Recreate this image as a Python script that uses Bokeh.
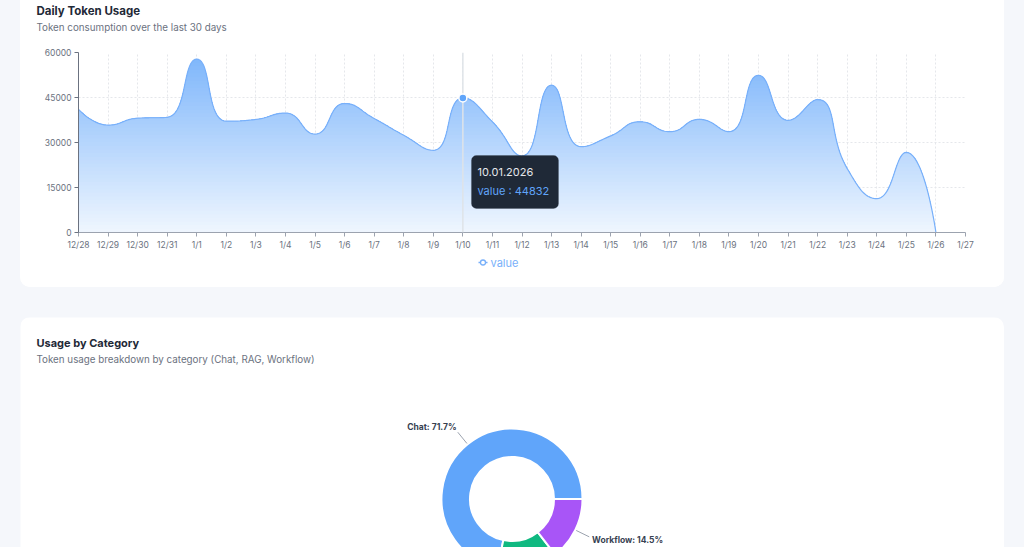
import math
import numpy as np
from bokeh.plotting import figure
from bokeh.models import (Range1d, FixedTicker, Label, BoxAnnotation, Span,
                          Spacer, ColumnDataSource)
from bokeh.layouts import column, row
from bokeh.embed import file_html
from bokeh.resources import INLINE
from bokeh.core.properties import value

# ---------------- data ----------------
tick_labels = ["12/28", "12/29", "12/30", "12/31", "1/1", "1/2", "1/3", "1/4",
               "1/5", "1/6", "1/7", "1/8", "1/9", "1/10", "1/11", "1/12",
               "1/13", "1/14", "1/15", "1/16", "1/17", "1/18", "1/19", "1/20",
               "1/21", "1/22", "1/23", "1/24", "1/25", "1/26", "1/27"]
token_values = [41100, 35800, 38100, 38400, 57800, 37100, 37700, 39800,
                32800, 43000, 38000, 32400, 27400, 44832, 36900, 25500,
                49100, 28600, 32200, 36900, 33600, 37700, 33600, 52400,
                37400, 44300, 21300, 11300, 26700, 0]
y_ticks = [0, 15000, 30000, 45000, 60000]
hover_index = 13
hover_year = 2026
series_name = "value"

categories = ["Chat", "RAG", "Workflow"]
shares = [71.7, 13.8, 14.5]
cat_colors = ["#60a5fa", "#10b981", "#a855f7"]

# ---------------- style ----------------
BG = "#f5f7fb"
FONT = "Inter"
BLUE = "#60a5fa"
LINE_BLUE = "#78b0fa"
TXT_DARK = "#1f2937"
TXT_GRAY = "#6b7280"

SIDE = 20
CARD_W = 984
HT = 36                  # title strip height (card 1)
H1 = 218                 # chart height
ML, MR, MT, MB = 58, 39, 16, 22
FW, FH = CARD_W - ML - MR, H1 - MT - MB
HL = 33                  # legend strip height
n_cat = len(tick_labels) - 1
PX_X = FW / n_cat
PX_Y = FH / (y_ticks[-1] - y_ticks[0])


def strip(height, radius):
    f = figure(width=CARD_W, height=height, x_range=Range1d(0, CARD_W),
               y_range=Range1d(0, height), title=None, output_backend="svg",
               toolbar_location=None, min_border=0, frame_align=False,
               background_fill_color="white", border_fill_color="white",
               outline_line_color=None,
               styles={"border-radius": radius, "overflow": "hidden"})
    f.axis.visible = False
    f.grid.visible = False
    return f


def echarts_smooth(xs, ys, smooth=0.5, samples=24):
    P = [(x * PX_X, y * PX_Y) for x, y in zip(xs, ys)]
    n = len(P)
    ox, oy = [P[0][0]], [P[0][1]]
    cp0 = P[0]
    for k in range(1, n):
        x, y = P[k]
        px, py = P[k - 1]
        if k == n - 1:
            cp1 = (x, y)
            ncp0 = (x, y)
        else:
            nx, ny = P[k + 1]
            vx, vy = nx - px, ny - py
            l0 = math.hypot(x - px, y - py)
            l1 = math.hypot(nx - x, ny - y)
            r = l1 / (l0 + l1)
            ncx = x + vx * smooth * r
            ncy = y + vy * smooth * r
            ncx = max(min(ncx, max(nx, x)), min(nx, x))
            ncy = max(min(ncy, max(ny, y)), min(ny, y))
            vx, vy = ncx - x, ncy - y
            c1x = x - vx * l0 / l1
            c1y = y - vy * l0 / l1
            c1x = max(min(c1x, max(px, x)), min(px, x))
            c1y = max(min(c1y, max(py, y)), min(py, y))
            vx, vy = x - c1x, y - c1y
            ncx = x + vx * l1 / l0
            ncy = y + vy * l1 / l0
            cp1 = (c1x, c1y)
            ncp0 = (ncx, ncy)
        for t in np.linspace(0, 1, samples + 1)[1:]:
            a = (1 - t) ** 3
            b = 3 * (1 - t) ** 2 * t
            c = 3 * (1 - t) * t ** 2
            d = t ** 3
            ox.append(a * px + b * cp0[0] + c * cp1[0] + d * x)
            oy.append(a * py + b * cp0[1] + c * cp1[1] + d * y)
        cp0 = ncp0
    return np.array(ox) / PX_X, np.array(oy) / PX_Y


xs = list(range(len(token_values)))
cx, cy = echarts_smooth(xs, token_values)
cy = np.maximum(cy, 0)

# ---------------- title strip (card 1) ----------------
pt = strip(HT, "0px")
pt.add_layout(Label(x=16, y=HT - 10, x_units="screen", y_units="screen",
                    text="Daily Token Usage", text_font=FONT,
                    text_font_size="11.5px", text_font_style="bold",
                    text_color=TXT_DARK, text_baseline="middle"))
pt.add_layout(Label(x=16, y=HT - 27, x_units="screen", y_units="screen",
                    text="Token consumption over the last 30 days",
                    text_font=FONT, text_font_size="9.8px",
                    text_color=TXT_GRAY, text_baseline="middle"))

# ---------------- chart (card 1) ----------------
p1 = figure(width=CARD_W, height=H1, x_range=Range1d(0, n_cat),
            y_range=Range1d(y_ticks[0], y_ticks[-1]), title=None,
            output_backend="svg", toolbar_location=None, frame_align=False,
            min_border_left=ML, min_border_right=MR, min_border_top=MT,
            min_border_bottom=MB, background_fill_color="white",
            border_fill_color="white", outline_line_color=None)

# gradient area via stacked bands
base = np.array([96, 165, 250])
vmax = float(cy.max())
NB = 48
for k in range(NB - 1, -1, -1):
    hi = vmax * (k + 1) / NB
    t = (k + 0.5) / NB
    alpha = 0.1 + 0.7 * t
    rgb = 255 + (base - 255) * alpha
    col = "#%02x%02x%02x" % tuple(int(round(v)) for v in rgb)
    p1.varea(x=cx, y1=np.zeros_like(cy), y2=np.minimum(cy, hi), fill_color=col)

p1.line(cx, cy, line_color=LINE_BLUE, line_width=1.2)

p1.add_layout(Span(location=hover_index, dimension="height",
                   line_color="#dfe3e8", line_width=1.5))
p1.scatter([xs[hover_index]], [token_values[hover_index]], marker="circle",
           size=8, fill_color=BLUE, line_color="white", line_width=1.5,
           level="overlay")

# axes
p1.xaxis.ticker = FixedTicker(ticks=list(range(len(tick_labels))))
p1.xaxis.major_label_overrides = {i: lab for i, lab in enumerate(tick_labels)}
p1.yaxis.ticker = FixedTicker(ticks=y_ticks)
for ax in (p1.xaxis[0], p1.yaxis[0]):
    ax.minor_tick_line_color = None
    ax.major_tick_in = 0
    ax.major_tick_out = 4
    ax.major_label_text_font = FONT
    ax.major_label_text_font_size = "8.5px"
    ax.major_label_text_color = TXT_GRAY
    ax.major_label_standoff = 3
p1.xaxis.axis_line_color = "#9ca3af"
p1.xaxis.major_tick_line_color = "#9ca3af"
p1.yaxis.axis_line_color = "#6b7280"
p1.yaxis.major_tick_line_color = "#6b7280"
p1.xgrid.ticker = FixedTicker(ticks=list(range(1, len(tick_labels))))
p1.ygrid.ticker = FixedTicker(ticks=y_ticks[1:])
p1.grid.grid_line_color = "#e5e7eb"
p1.grid.grid_line_dash = "2 2"
p1.grid.grid_line_width = 1

# tooltip
m, d = tick_labels[hover_index].split("/")
tip_date = "%02d.%02d.%d" % (int(d), int(m), hover_year)
hx = xs[hover_index]
p1.add_layout(BoxAnnotation(left=hx + 8.6 / PX_X, right=hx + 95.6 / PX_X,
                            top=77 / PX_Y, bottom=24 / PX_Y,
                            fill_color="#1f2937", fill_alpha=1,
                            line_color="#374151", line_width=1,
                            border_radius=5, level="overlay"))
p1.add_layout(Label(x=hx + 14.6 / PX_X, y=61 / PX_Y, text=tip_date,
                    text_font=FONT, text_font_size="11px", text_color="#e5e7eb",
                    text_baseline="middle", level="overlay"))
p1.add_layout(Label(x=hx + 14.6 / PX_X, y=42 / PX_Y,
                    text="%s : %d" % (series_name, token_values[hover_index]),
                    text_font=FONT, text_font_size="11px", text_color=BLUE,
                    text_baseline="middle", level="overlay"))

# ---------------- legend strip (card 1) ----------------
pl = strip(HL, "0px 0px 10px 10px")
LEG_X, LEG_Y = 458, HL - 8
pl.line(x=[LEG_X, LEG_X + 9], y=[LEG_Y, LEG_Y], line_color=LINE_BLUE,
        line_width=1.3)
pl.scatter(x=[LEG_X + 4.5], y=[LEG_Y], marker="circle", size=5,
           fill_color="white", line_color=LINE_BLUE, line_width=1.3)
pl.text(x=[LEG_X + 12], y=[LEG_Y], text=[series_name], text_font=value(FONT),
        text_font_size="11px", text_color=LINE_BLUE, text_baseline="middle",
        text_align="left")

# ---------------- figure 2 ----------------
H2 = 230
CXP, CYP = 491.5, 181.5   # donut centre offset from card left / top
p2 = figure(width=CARD_W, height=H2, x_range=Range1d(-CXP, CARD_W - CXP),
            y_range=Range1d(-(H2 - CYP), CYP), title=None,
            output_backend="svg", toolbar_location=None, min_border=0,
            frame_align=False,
            background_fill_color="white", border_fill_color="white",
            outline_line_color=None,
            styles={"border-radius": "10px 10px 0px 0px", "overflow": "hidden"})
p2.axis.visible = False
p2.grid.visible = False

total = sum(shares)
ends = np.cumsum(shares) / total * 2 * math.pi
starts = np.concatenate([[0.0], ends[:-1]])
R_IN, R_OUT = 42, 70.5
src = ColumnDataSource(dict(start=starts, end=ends, color=cat_colors,
                            cat=categories))
p2.annular_wedge(x=0, y=0, inner_radius=R_IN, outer_radius=R_OUT,
                 start_angle="start", end_angle="end", fill_color="color",
                 line_color="white", line_width=2, source=src)

for cat, s, e, sh in zip(categories, starts, ends, shares):
    mid = (s + e) / 2
    ca, sa = math.cos(mid), math.sin(mid)
    p2.segment(x0=[(R_OUT + 1) * ca], y0=[(R_OUT + 1) * sa],
               x1=[86 * ca], y1=[86 * sa], line_color="#9ca3af", line_width=1)
    ty = 93 * sa
    if ty - 5 < -(H2 - CYP):
        continue   # label lies below the visible part of the page
    side = 1 if ca >= 0 else -1
    p2.text(x=[92 * ca - 2.5 * side], y=[ty], text=["%s: %.1f%%" % (cat, sh)],
            text_align="left" if side > 0 else "right", text_baseline="middle",
            text_font=value(FONT), text_font_size="8.5px",
            text_font_style="bold", text_color="#374151")

p2.add_layout(Label(x=16, y=H2 - 25, x_units="screen", y_units="screen",
                    text="Usage by Category", text_font=FONT,
                    text_font_size="11px", text_font_style="bold",
                    text_color=TXT_DARK, text_baseline="middle"))
p2.add_layout(Label(x=16, y=H2 - 42, x_units="screen", y_units="screen",
                    text="Token usage breakdown by category (Chat, RAG, Workflow)",
                    text_font=FONT, text_font_size="9.8px", text_color=TXT_GRAY,
                    text_baseline="middle"))

# ---------------- layout ----------------
H_CARD1 = HT + H1 + HL
card1 = column(pt, p1, pl, spacing=0,
               styles={"background-color": "white",
                       "border-radius": "0px 0px 10px 10px"})
r1 = row(Spacer(width=SIDE, height=H_CARD1), card1,
         Spacer(width=SIDE, height=H_CARD1))
r2 = row(Spacer(width=SIDE, height=H2), p2, Spacer(width=SIDE, height=H2))
p = column(r1, r2, spacing=30, styles={"background-color": BG})

open("out.html", "w").write(file_html(p, INLINE))
